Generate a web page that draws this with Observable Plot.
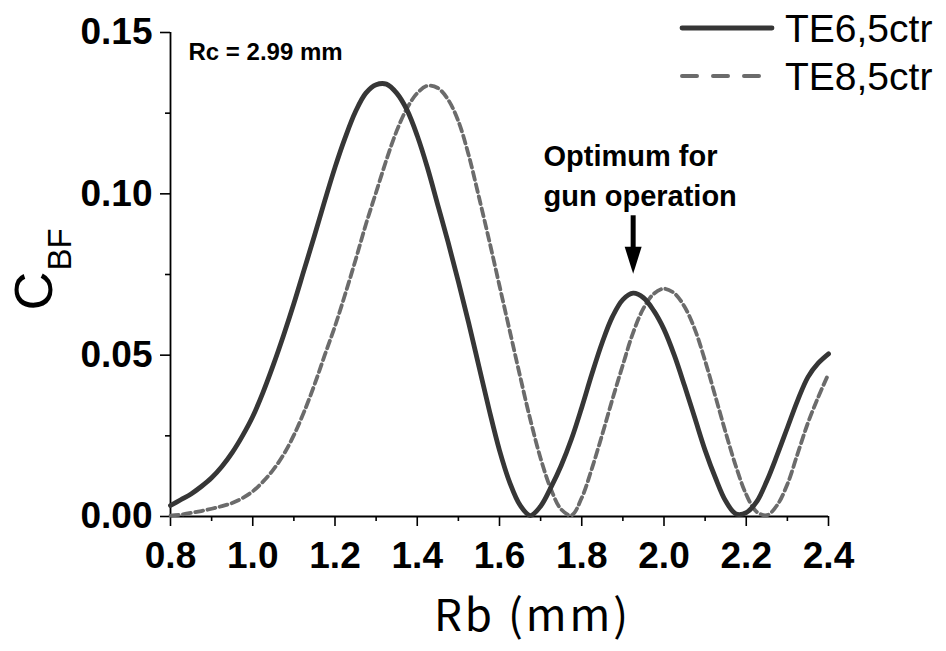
<!DOCTYPE html>
<html>
<head>
<meta charset="utf-8">
<script src="https://cdn.jsdelivr.net/npm/d3@7"></script>
<script src="https://cdn.jsdelivr.net/npm/@observablehq/plot@0.6"></script>
<style>
  html, body { margin: 0; padding: 0; background: #fff; }
  #chart { position: relative; width: 946px; height: 651px; }
  #legend { position: absolute; left: 0; top: 0; }
</style>
</head>
<body>
<div id="chart"></div>
<script>
// Beam radius Rb (mm)
const rb = [
  0.800, 0.825, 0.850, 0.875, 0.900, 0.925, 0.950, 0.975,
  1.000, 1.025, 1.050, 1.075, 1.100, 1.125, 1.150, 1.175,
  1.200, 1.225, 1.250, 1.275, 1.300, 1.325, 1.350, 1.375,
  1.400, 1.425, 1.450, 1.475, 1.500, 1.525, 1.550, 1.575,
  1.600, 1.625, 1.650, 1.675, 1.700, 1.725, 1.750, 1.775,
  1.800, 1.825, 1.850, 1.875, 1.900, 1.925, 1.950, 1.975,
  2.000, 2.025, 2.050, 2.075, 2.100, 2.125, 2.150, 2.175,
  2.200, 2.225, 2.250, 2.275, 2.300, 2.325, 2.350, 2.375,
  2.400
];

// Coupling coefficient C_BF, TE6,5 mode
const te65 = [
  0.0034, 0.0052, 0.0070, 0.0093, 0.0120, 0.0155, 0.0198, 0.0250,
  0.0310, 0.0385, 0.0470, 0.0562, 0.0660, 0.0765, 0.0870, 0.0978,
  0.1082, 0.1175, 0.1255, 0.1312, 0.1338, 0.1340, 0.1312, 0.1260,
  0.1180, 0.1080, 0.0965, 0.0850, 0.0728, 0.0600, 0.0465, 0.0330,
  0.0205, 0.0105, 0.0035, 0.0003, 0.0032, 0.0090, 0.0158, 0.0240,
  0.0338, 0.0443, 0.0540, 0.0620, 0.0672, 0.0692, 0.0678, 0.0638,
  0.0580, 0.0500, 0.0405, 0.0305, 0.0205, 0.0120, 0.0048, 0.0008,
  0.0012, 0.0045, 0.0110, 0.0190, 0.0275, 0.0360, 0.0432, 0.0475,
  0.0504
];

// Coupling coefficient C_BF, TE8,5 mode
const te85 = [
  0.0003, 0.0006, 0.0011, 0.0017, 0.0024, 0.0032, 0.0042, 0.0057,
  0.0078, 0.0108, 0.0145, 0.0192, 0.0252, 0.0325, 0.0408, 0.0500,
  0.0590, 0.0690, 0.0795, 0.0905, 0.1005, 0.1105, 0.1195, 0.1265,
  0.1312, 0.1335, 0.1328, 0.1292, 0.1225, 0.1120, 0.0990, 0.0855,
  0.0715, 0.0575, 0.0435, 0.0300, 0.0180, 0.0085, 0.0022, 0.0004,
  0.0058, 0.0150, 0.0255, 0.0365, 0.0470, 0.0570, 0.0645, 0.0690,
  0.0706, 0.0692, 0.0650, 0.0580, 0.0482, 0.0372, 0.0260, 0.0155,
  0.0068, 0.0015, 0.0004, 0.0035, 0.0100, 0.0195, 0.0290, 0.0370,
  0.0442
];

const seriesNames = ["TE6,5ctr", "TE8,5ctr"];

const xTicks = [0.8, 1.0, 1.2, 1.4, 1.6, 1.8, 2.0, 2.2, 2.4];
const xMinorTicks = [0.9, 1.1, 1.3, 1.5, 1.7, 1.9, 2.1, 2.3];
const yTicks = [0.00, 0.05, 0.10, 0.15];
const yMinorTicks = [0.025, 0.075, 0.125];

const xLabel = "Rb (mm)";
const yLabelMain = "C";
const yLabelSub = "BF";
const rcNote = "Rc = 2.99 mm";
const optimumNote = "Optimum for\ngun operation";

// Arrow pointing at the second TE6,5 maximum (gap and length in C_BF units)
const arrowGap = 0.006;
const arrowLength = 0.018;

const SOLID = "#363636";
const DASHED = "#6b6b6b";
const SANS = "'Liberation Sans', Arial, Helvetica, sans-serif";
const CJK = "'Noto Sans CJK JP', 'Noto Sans', sans-serif";

const rows6 = rb.map((x, i) => ({rb: x, c: te65[i], mode: seriesNames[0]}));
const rows8 = rb.map((x, i) => ({rb: x, c: te85[i], mode: seriesNames[1]}));

// Locate the second TE6,5 peak for the arrow
const second = rows6.filter(d => d.rb > 1.7).reduce((a, b) => (b.c > a.c ? b : a));
const arrow = [{
  x: second.rb,
  tip: second.c + arrowGap,
  top: second.c + arrowGap + arrowLength
}];

// Narrow filled arrowhead, tip at the symbol origin
const arrowHead = {
  draw(context) {
    context.moveTo(0, 0);
    context.lineTo(-8.5, -27);
    context.lineTo(8.5, -27);
    context.closePath();
  }
};

const plot = Plot.plot({
  width: 946,
  height: 651,
  marginLeft: 170,
  marginRight: 118,
  marginTop: 32,
  marginBottom: 135,
  style: {fontFamily: SANS, background: "#fff", color: "#000", overflow: "visible"},
  x: {domain: [0.8, 2.4]},
  y: {domain: [0, 0.15]},
  marks: [
    // minor ticks
    Plot.axisX(xMinorTicks, {tickSize: 5, strokeWidth: 1.6, tickFormat: () => "", label: null}),
    Plot.axisY(yMinorTicks, {tickSize: 5, strokeWidth: 1.6, tickFormat: () => "", label: null}),
    // major ticks with labels
    Plot.axisX(xTicks, {
      tickSize: 10, tickPadding: 15, strokeWidth: 1.6,
      tickFormat: d3.format(".1f"), fontSize: 37, fontWeight: "bold", label: null
    }),
    Plot.axisY(yTicks, {
      tickSize: 10, tickPadding: 8, strokeWidth: 1.6,
      tickFormat: d3.format(".2f"), fontSize: 37, fontWeight: "bold", label: null
    }),
    // axis lines
    Plot.ruleX([0.8], {strokeWidth: 1.8}),
    Plot.ruleY([0], {strokeWidth: 1.8}),
    // curves
    Plot.line(rows8, {
      x: "rb", y: "c", stroke: DASHED, strokeWidth: 3.8,
      strokeDasharray: "8,4.5", curve: "catmull-rom"
    }),
    Plot.line(rows6, {
      x: "rb", y: "c", stroke: SOLID, strokeWidth: 4.8, curve: "catmull-rom"
    }),
    // arrow to the optimum
    Plot.ruleX(arrow, {x: "x", y1: "top", y2: d => d.tip + 0.004, stroke: "#000", strokeWidth: 5}),
    Plot.dot(arrow, {x: "x", y: "tip", symbol: arrowHead, fill: "#000", stroke: null, r: 10}),
    // annotations
    Plot.text([rcNote], {
      text: d => d, frameAnchor: "top-left", dx: 18, dy: 20,
      textAnchor: "start", lineAnchor: "middle",
      fontSize: 24, fontWeight: "bold", fontFamily: SANS
    }),
    Plot.text([optimumNote], {
      text: d => d, frameAnchor: "top-left", dx: 373, dy: 105,
      textAnchor: "start", lineAnchor: "top", lineHeight: 1.38,
      fontSize: 29, fontWeight: "bold", fontFamily: SANS
    }),
    // axis titles
    Plot.text([xLabel], {
      text: d => d, frameAnchor: "bottom", dx: 33, dy: 100,
      textAnchor: "middle", lineAnchor: "middle",
      fontSize: 44, fontFamily: CJK
    }),
    Plot.text([yLabelMain], {
      text: d => d, frameAnchor: "left", dx: -136, dy: 36, rotate: -90,
      textAnchor: "start", lineAnchor: "middle",
      fontSize: 54, fontFamily: SANS
    }),
    Plot.text([yLabelSub], {
      text: d => d, frameAnchor: "left", dx: -110, dy: -4, rotate: -90,
      textAnchor: "start", lineAnchor: "middle",
      fontSize: 33, fontFamily: SANS
    })
  ]
});

// Widen the x-axis title slightly
plot.querySelectorAll("text").forEach(t => {
  if (t.textContent === xLabel) t.style.letterSpacing = "3px";
});

const chart = document.getElementById("chart");
chart.appendChild(plot);

// Legend in the top-right corner
const legendItems = [
  {name: seriesNames[0], stroke: SOLID, width: 4.8, dash: null, y: 28},
  {name: seriesNames[1], stroke: DASHED, width: 4, dash: "15,16", y: 76}
];
const legend = d3.select(chart).append("svg")
  .attr("id", "legend")
  .attr("width", 946)
  .attr("height", 110);
const item = legend.selectAll("g").data(legendItems).join("g");
item.append("line")
  .attr("x1", 682).attr("x2", 772)
  .attr("y1", d => d.y).attr("y2", d => d.y)
  .attr("stroke", d => d.stroke)
  .attr("stroke-width", d => d.width)
  .attr("stroke-linecap", "round")
  .attr("stroke-dasharray", d => d.dash);
item.append("text")
  .attr("x", 785)
  .attr("y", d => d.y + 14)
  .attr("font-family", SANS)
  .attr("font-size", 39)
  .attr("fill", "#000")
  .text(d => d.name);
</script>
</body>
</html>
